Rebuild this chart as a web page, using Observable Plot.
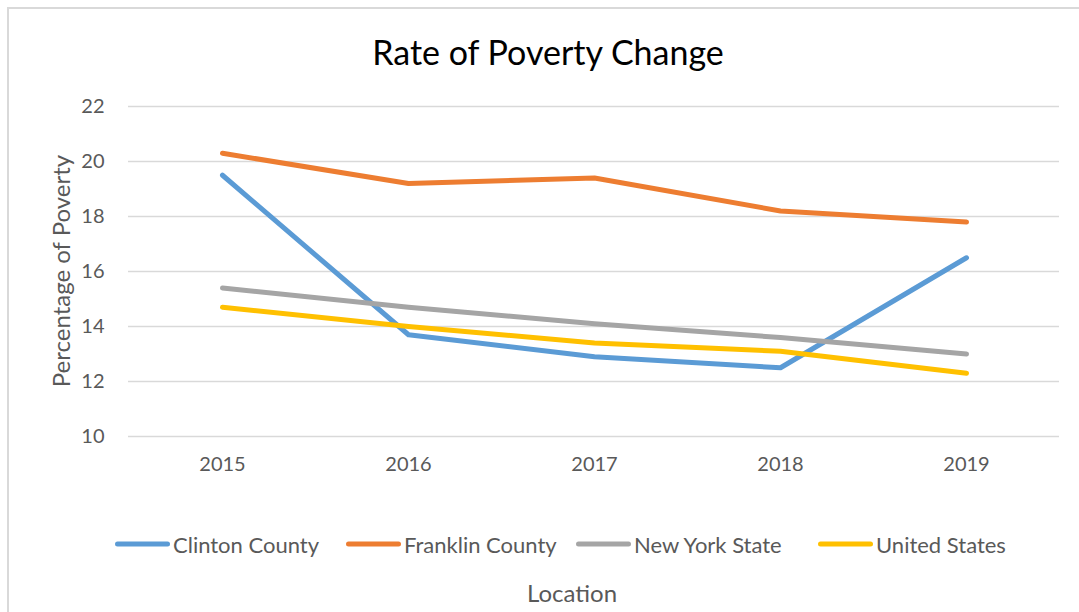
<!DOCTYPE html>
<html>
<head>
<meta charset="utf-8">
<script src="https://cdn.jsdelivr.net/npm/d3@7"></script>
<script src="https://cdn.jsdelivr.net/npm/@observablehq/plot@0.6"></script>
<style>
  html, body { margin: 0; padding: 0; background: #fff; width: 1079px; height: 612px; overflow: hidden; }
  body { position: relative; font-family: Lato, "Open Sans", sans-serif; }
  #frame { position: absolute; left: 7px; top: 7px; width: 1100px; height: 700px; border-left: 2px solid #d9d9d9; border-top: 2px solid #d9d9d9; box-sizing: border-box; }
  #chart { position: absolute; left: 0; top: 0; }
  #title { position: absolute; left: 0; width: 1096px; top: 31px; text-align: center; font-size: 34px; color: #000; }
  #ylabel { position: absolute; left: 60px; top: 271px; transform: translate(-50%, -50%) rotate(-90deg); font-size: 24px; color: #595959; white-space: nowrap; }
  #xlabel { position: absolute; left: 572px; top: 592px; transform: translate(-50%, -50%); font-size: 24px; color: #595959; }
  .leg { position: absolute; top: 544px; transform: translateY(-50%); display: flex; align-items: center; font-size: 22px; color: #595959; white-space: nowrap; }
  .leg span.sw { display: inline-block; width: 55px; height: 5px; border-radius: 3px; margin-right: 3px; }
</style>
</head>
<body>
<div id="frame"></div>
<div id="chart"></div>
<div id="title">Rate of Poverty Change</div>
<div id="ylabel">Percentage of Poverty</div>
<div id="xlabel">Location</div>
<div id="legend"></div>
<script>
const years = ["2015", "2016", "2017", "2018", "2019"];
const seriesNames = ["Clinton County", "Franklin County", "New York State", "United States"];
const clinton = [19.5, 13.7, 12.9, 12.5, 16.5];
const franklin = [20.3, 19.2, 19.4, 18.2, 17.8];
const newYorkState = [15.4, 14.7, 14.1, 13.6, 13.0];
const unitedStates = [14.7, 14.0, 13.4, 13.1, 12.3];
const colors = ["#5B9BD5", "#ED7D31", "#A5A5A5", "#FFC000"];
const yTicks = [10, 12, 14, 16, 18, 20, 22];

const allValues = [clinton, franklin, newYorkState, unitedStates];
const rows = [];
seriesNames.forEach((name, i) => {
  years.forEach((yr, j) => rows.push({series: name, year: yr, value: allValues[i][j]}));
});

const chart = Plot.plot({
  width: 1079,
  height: 612,
  marginLeft: 128,
  marginRight: 20,
  marginTop: 106,
  marginBottom: 176,
  style: { fontFamily: "Lato, 'Open Sans', sans-serif", fontSize: "20px", color: "#595959", background: "transparent" },
  x: { type: "point", domain: years, padding: 0.5, label: null },
  y: { domain: [10, 22], ticks: yTicks, label: null },
  color: { domain: seriesNames, range: colors },
  marks: [
    Plot.gridY(yTicks, { stroke: "#d9d9d9", strokeOpacity: 1, strokeWidth: 1.5 }),
    Plot.axisY(yTicks, { tickSize: 0, tickPadding: 24, label: null, fontSize: 20, fill: "#595959" }),
    Plot.axisX({ tickSize: 0, tickPadding: 20, label: null, fontSize: 20, fill: "#595959" }),
    Plot.line(rows, { x: "year", y: "value", z: "series", stroke: "series", strokeWidth: 5, strokeLinecap: "round", strokeLinejoin: "round" })
  ]
});
document.getElementById("chart").appendChild(chart);

const legendX = [115, 346, 576, 818];
const legend = document.getElementById("legend");
seriesNames.forEach((name, i) => {
  const d = document.createElement("div");
  d.className = "leg";
  d.style.left = legendX[i] + "px";
  d.innerHTML = `<span class="sw" style="background:${colors[i]}"></span>${name}`;
  legend.appendChild(d);
});
</script>
</body>
</html>
